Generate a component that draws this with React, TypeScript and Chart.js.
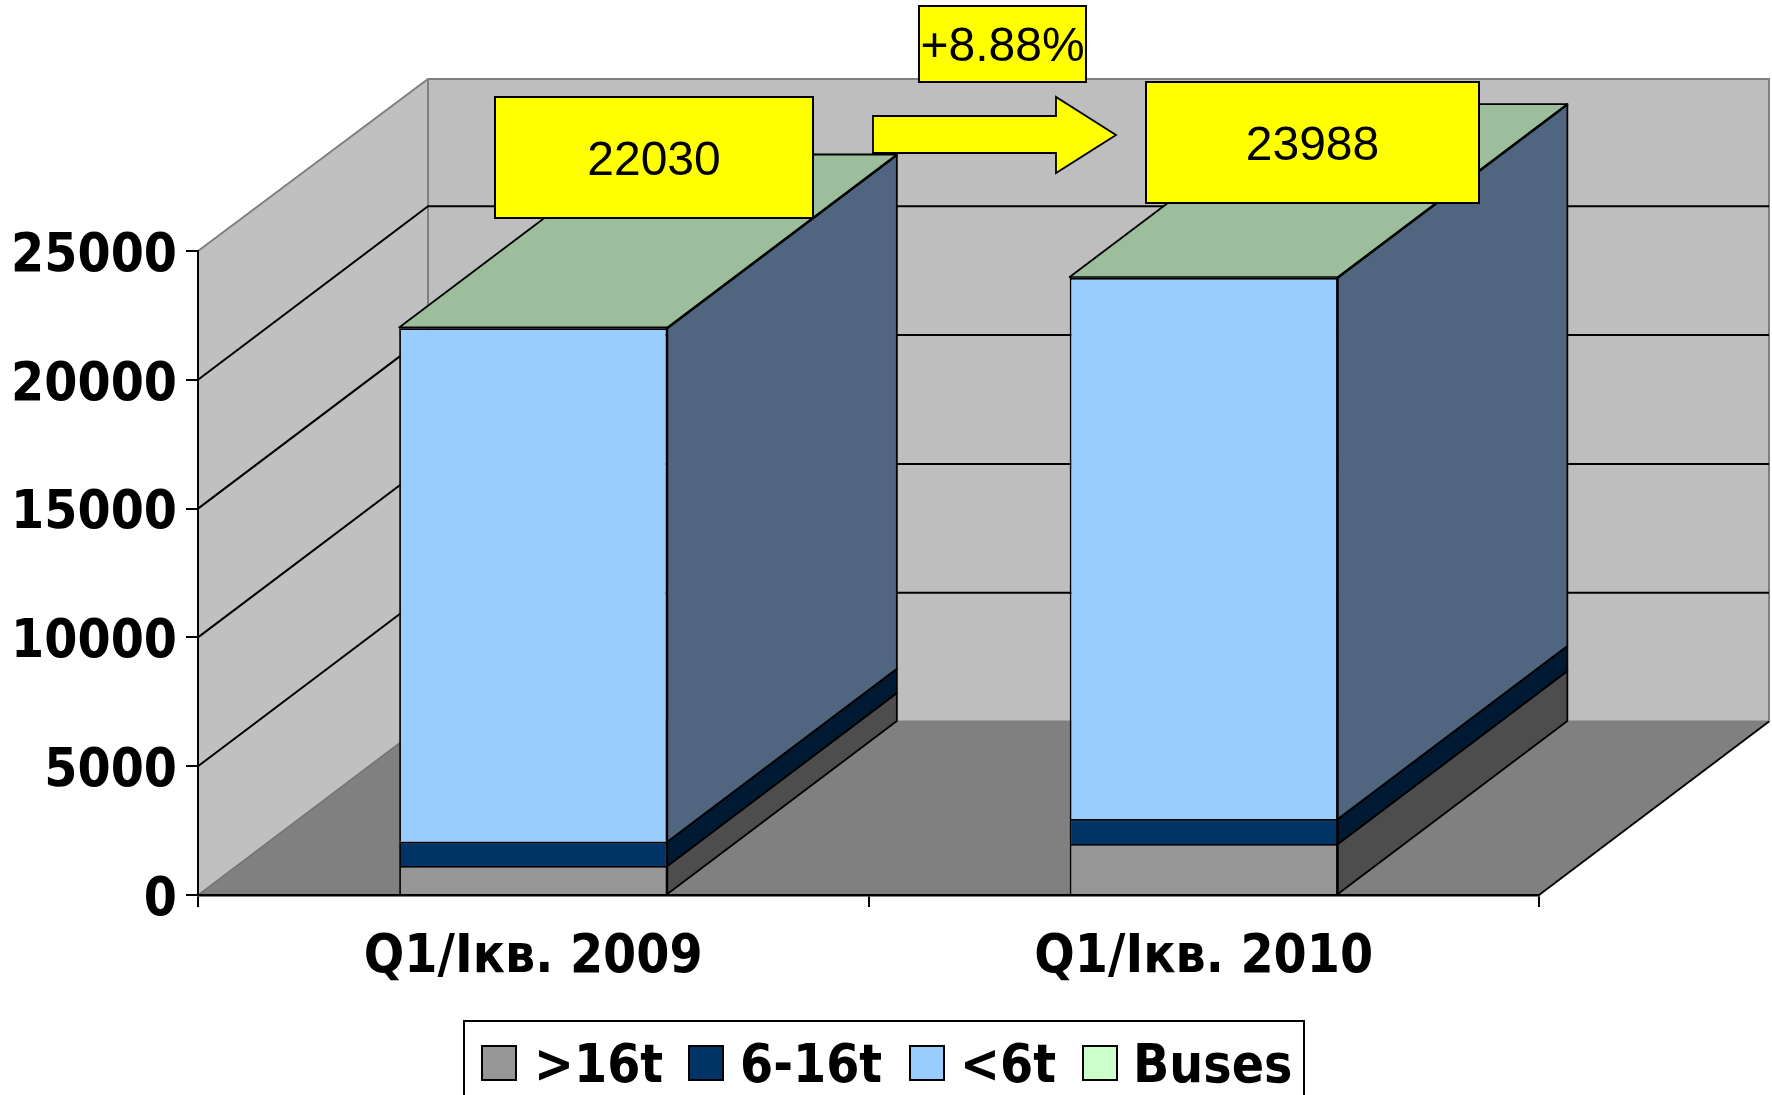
import React, { useEffect, useRef } from "react";
import { Chart, registerables } from "chart.js";

Chart.register(...registerables);

const categories = ["Q1/Iкв. 2009", "Q1/Iкв. 2010"];
const over16t = [1126, 1980];
const from6to16t = [943, 970];
const under6t = [19931, 21008];
const buses = [30, 30];
const totals = [22030, 23988];
const changeLabel = "+8.88%";
const yTicks = [0, 5000, 10000, 15000, 20000, 25000];

const seriesLabels = [">16t", "6-16t", "<6t", "Buses"];
const frontColors = ["#969696", "#003366", "#99CCFF", "#CCFFCC"];
const sideColors = ["#4D4D4D", "#001A33", "#4F6580", "#678067"];
const TOP_COLOR = "#9CBE9C";

const AXIS_FONT = "'DejaVu Sans Condensed', 'DejaVu Sans'";
const AXIS_SIZE = 53;
const WALL_DX = 230;
const WALL_DY = 173.5;
const WALL_TOP_DY = 172;
const BAR_DX = 229.5;
const BAR_DY = 173;

const legendLayout = {
  box: [464, 1021, 840, 90],
  swatches: [482, 689, 910, 1083],
  labels: [534, 740, 960, 1133],
  swatchTop: 1046,
  swatchSize: 34,
  baseline: 1082,
};

const poly = (ctx: any, pts: number[][], fill: string | null, stroke: string | null, lw = 1.8) => {
  ctx.beginPath();
  pts.forEach((p, i) => (i ? ctx.lineTo(p[0], p[1]) : ctx.moveTo(p[0], p[1])));
  ctx.closePath();
  if (fill) {
    ctx.fillStyle = fill;
    ctx.fill();
  }
  if (stroke) {
    ctx.strokeStyle = stroke;
    ctx.lineWidth = lw;
    ctx.stroke();
  }
};

const line = (ctx: any, pts: number[][], stroke: string, lw: number) => {
  ctx.beginPath();
  pts.forEach((p, i) => (i ? ctx.lineTo(p[0], p[1]) : ctx.moveTo(p[0], p[1])));
  ctx.strokeStyle = stroke;
  ctx.lineWidth = lw;
  ctx.stroke();
};

const wallsPlugin = {
  id: "walls3d",
  beforeDraw(chart: any) {
    const { ctx, chartArea: a, scales } = chart;
    const y0 = scales.y.getPixelForValue(0);
    const yMax = scales.y.getPixelForValue(25000);
    const L = a.left;
    const R = a.right;
    const top = yMax - WALL_TOP_DY;
    ctx.save();
    // left side wall and back wall
    poly(ctx, [[L, y0], [L, yMax], [L + WALL_DX, top], [L + WALL_DX, y0 - WALL_DY]], "#C0C0C0", null);
    poly(ctx, [[L + WALL_DX, y0 - WALL_DY], [L + WALL_DX, top], [R + WALL_DX, top], [R + WALL_DX, y0 - WALL_DY]], "#BEBEBE", null);
    // floor
    poly(ctx, [[L, y0], [L + WALL_DX, y0 - WALL_DY], [R + WALL_DX, y0 - WALL_DY], [R, y0]], "#808080", null);
    // wall edges
    line(ctx, [[L, yMax], [L + WALL_DX, top], [R + WALL_DX, top], [R + WALL_DX, y0 - WALL_DY], [L + WALL_DX, y0 - WALL_DY], [L + WALL_DX, top]], "#808080", 2);
    line(ctx, [[L, y0], [L + WALL_DX, y0 - WALL_DY]], "#707070", 1.5);
    line(ctx, [[R, y0], [R + WALL_DX, y0 - WALL_DY]], "#000000", 1.8);
    // grid lines
    yTicks.slice(1, -1).forEach((v) => {
      const y = scales.y.getPixelForValue(v);
      line(ctx, [[L, y], [L + WALL_DX, y - WALL_DY], [R + WALL_DX, y - WALL_DY]], "#000000", 2);
    });
    ctx.restore();
  },
};

const barSidesPlugin = {
  id: "barSides3d",
  beforeDatasetsDraw(chart: any) {
    const { ctx } = chart;
    ctx.save();
    ctx.lineJoin = "round";
    chart.data.datasets.forEach((_: any, d: number) => {
      chart.getDatasetMeta(d).data.forEach((bar: any) => {
        const r = bar.x + bar.width / 2;
        poly(ctx, [[r, bar.base], [r, bar.y], [r + BAR_DX, bar.y - BAR_DY], [r + BAR_DX, bar.base - BAR_DY]], sideColors[d], "#000000");
      });
    });
    const last = chart.data.datasets.length - 1;
    chart.getDatasetMeta(last).data.forEach((bar: any) => {
      const l = bar.x - bar.width / 2;
      const r = bar.x + bar.width / 2;
      poly(ctx, [[l, bar.y], [r, bar.y], [r + BAR_DX, bar.y - BAR_DY], [l + BAR_DX, bar.y - BAR_DY]], TOP_COLOR, "#000000");
    });
    ctx.restore();
  },
};

const labelBox = (ctx: any, x: number, y: number, w: number, h: number, text: string) => {
  ctx.fillStyle = "#FFFF00";
  ctx.fillRect(x, y, w, h);
  ctx.strokeStyle = "#000000";
  ctx.lineWidth = 2;
  ctx.strokeRect(x, y, w, h);
  ctx.fillStyle = "#000000";
  ctx.font = "48px 'Liberation Sans'";
  ctx.textAlign = "center";
  ctx.textBaseline = "alphabetic";
  ctx.fillText(text, x + w / 2, y + h / 2 + 17);
};

const annotationsPlugin = {
  id: "annotations",
  afterDatasetsDraw(chart: any) {
    const { ctx } = chart;
    ctx.save();
    labelBox(ctx, 495, 97, 318, 121, String(totals[0]));
    labelBox(ctx, 1146, 82, 333, 121, String(totals[1]));
    labelBox(ctx, 919, 6, 167, 76, changeLabel);
    poly(ctx, [[873, 116], [1056, 116], [1056, 97], [1116, 135], [1056, 173], [1056, 153], [873, 153]], "#FFFF00", "#000000", 1.8);

    // legend
    const lg = legendLayout;
    ctx.fillStyle = "#FFFFFF";
    ctx.fillRect(lg.box[0], lg.box[1], lg.box[2], lg.box[3]);
    ctx.strokeStyle = "#000000";
    ctx.lineWidth = 2;
    ctx.strokeRect(lg.box[0], lg.box[1], lg.box[2], lg.box[3]);
    ctx.font = `bold ${AXIS_SIZE}px ${AXIS_FONT}`;
    ctx.textAlign = "left";
    ctx.textBaseline = "alphabetic";
    chart.data.datasets.forEach((ds: any, i: number) => {
      ctx.fillStyle = ds.backgroundColor;
      ctx.fillRect(lg.swatches[i], lg.swatchTop, lg.swatchSize, lg.swatchSize);
      ctx.strokeStyle = "#000000";
      ctx.lineWidth = 2;
      ctx.strokeRect(lg.swatches[i], lg.swatchTop, lg.swatchSize, lg.swatchSize);
      ctx.fillStyle = "#000000";
      ctx.fillText(ds.label, lg.labels[i], lg.baseline);
    });
    ctx.restore();
  },
};

export default function App() {
  const ref = useRef<HTMLCanvasElement | null>(null);
  useEffect(() => {
    const values = [over16t, from6to16t, under6t, buses];
    const chart = new Chart(ref.current as HTMLCanvasElement, {
      type: "bar",
      data: {
        labels: categories,
        datasets: values.map((data, i) => ({
          label: seriesLabels[i],
          data,
          backgroundColor: frontColors[i],
          borderColor: "#000000",
          borderWidth: 1.8,
          barPercentage: 0.4,
          categoryPercentage: 1,
        })),
      },
      options: {
        responsive: false,
        animation: false,
        layout: { padding: { top: 251, right: 233, left: 0, bottom: 0 } },
        plugins: { legend: { display: false }, tooltip: { enabled: false } },
        scales: {
          x: {
            stacked: true,
            afterFit: (s: any) => {
              s.height = 200;
            },
            grid: { offset: true, drawOnChartArea: false, drawTicks: true, tickLength: 12, color: "#000000", lineWidth: 2 },
            border: { display: true, color: "#000000", width: 2.5 },
            ticks: { color: "#000000", padding: 19, maxRotation: 0, font: { family: AXIS_FONT, size: AXIS_SIZE, weight: "bold" } },
          },
          y: {
            stacked: true,
            min: 0,
            max: 25000,
            afterFit: (s: any) => {
              s.width = 198;
            },
            afterBuildTicks: (s: any) => {
              s.ticks = yTicks.map((value) => ({ value }));
            },
            grid: { drawOnChartArea: false, drawTicks: true, tickLength: 12, color: "#000000", lineWidth: 2 },
            border: { display: true, color: "#000000", width: 2 },
            ticks: {
              color: "#000000",
              padding: 9,
              labelOffset: 6,
              callback: (v: any) => String(v),
              font: { family: AXIS_FONT, size: AXIS_SIZE, weight: "bold" },
            },
          },
        },
      },
      plugins: [wallsPlugin, barSidesPlugin, annotationsPlugin],
    } as any);
    return () => chart.destroy();
  }, []);
  return (
    <canvas
      ref={ref}
      width={1772}
      height={1095}
      style={{ position: "absolute", left: 0, top: 0, width: 1772, height: 1095, display: "block" }}
    />
  );
}
